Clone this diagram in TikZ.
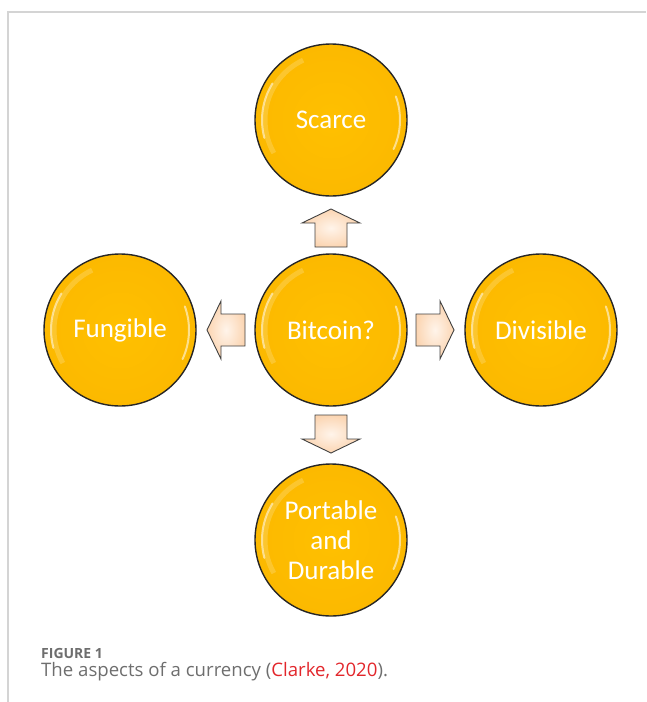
\documentclass[tikz,border=0pt]{standalone}
\usepackage{fontspec}
\setmainfont{Carlito}
\newfontfamily\capfont{Open Sans}
\definecolor{coinc}{HTML}{FFC000}
\definecolor{coinedge}{HTML}{FCB900}
\definecolor{peach}{HTML}{FBD5B2}
\definecolor{peachlight}{HTML}{FFF4EA}
\definecolor{framec}{HTML}{D4D4D4}
\definecolor{capgray}{HTML}{6E6E6E}
\definecolor{citered}{HTML}{E2262B}
\begin{document}
\begin{tikzpicture}[x=1pt,y=-1pt,
  coin/.style={circle, minimum size=152pt, inner sep=0pt, draw=black!85, line width=1.4pt,
    shade, shading=radial, inner color=coinc, outer color=coinedge,
    text=white, font=\fontsize{27}{30}\selectfont, align=center,
    path picture={
      \draw[white, opacity=.55, line width=2pt, line cap=round]
        ([shift={(148:69pt)}]path picture bounding box.center) arc[start angle=148, end angle=195, radius=69pt];
      \draw[white, opacity=.55, line width=2pt, line cap=round]
        ([shift={(-25:69pt)}]path picture bounding box.center) arc[start angle=-25, end angle=20, radius=69pt];
      \draw[white, opacity=.18, line width=5pt]
        ([shift={(115:66pt)}]path picture bounding box.center) arc[start angle=115, end angle=210, radius=66pt];
    }},
  blockarrow/.pic={
    \path[draw=black!75, line width=0.9pt, shading=radial, inner color=peachlight, outer color=peach]
      (-19,-16)--(5,-16)--(5,-29)--(19,0)--(5,29)--(5,16)--(-19,16)--cycle;
  }]
\path[use as bounding box] (0,0) rectangle (646,702);
\draw[framec, line width=1.2pt] (8,702) -- (8,12) -- (646,12);

\node[coin] (scarce) at (331,120) {Scarce};
\node[coin] (bitcoin) at (331,330) {Bitcoin?};
\node[coin] (fungible) at (120,330) {Fungible};
\node[coin] (divisible) at (541,330) {Divisible};
\node[coin] (portable) at (331,540) {Portable\\and\\Durable};

\pic[rotate=90] at (331,228) {blockarrow};
\pic[rotate=180] at (226,330) {blockarrow};
\pic at (435,330) {blockarrow};
\pic[rotate=-90] at (331,434) {blockarrow};

\node[anchor=west, inner sep=0pt, text=capgray, font=\capfont\bfseries\fontsize{14}{16}\selectfont] (fig) at (41,653) {FIGURE 1};
\node[anchor=west, inner sep=0pt, text=capgray, font=\capfont\fontsize{18.6}{22}\selectfont] (cap) at (41,672) {The aspects of a currency (\textcolor{citered}{Clarke, 2020}).};
\end{tikzpicture}
\end{document}
